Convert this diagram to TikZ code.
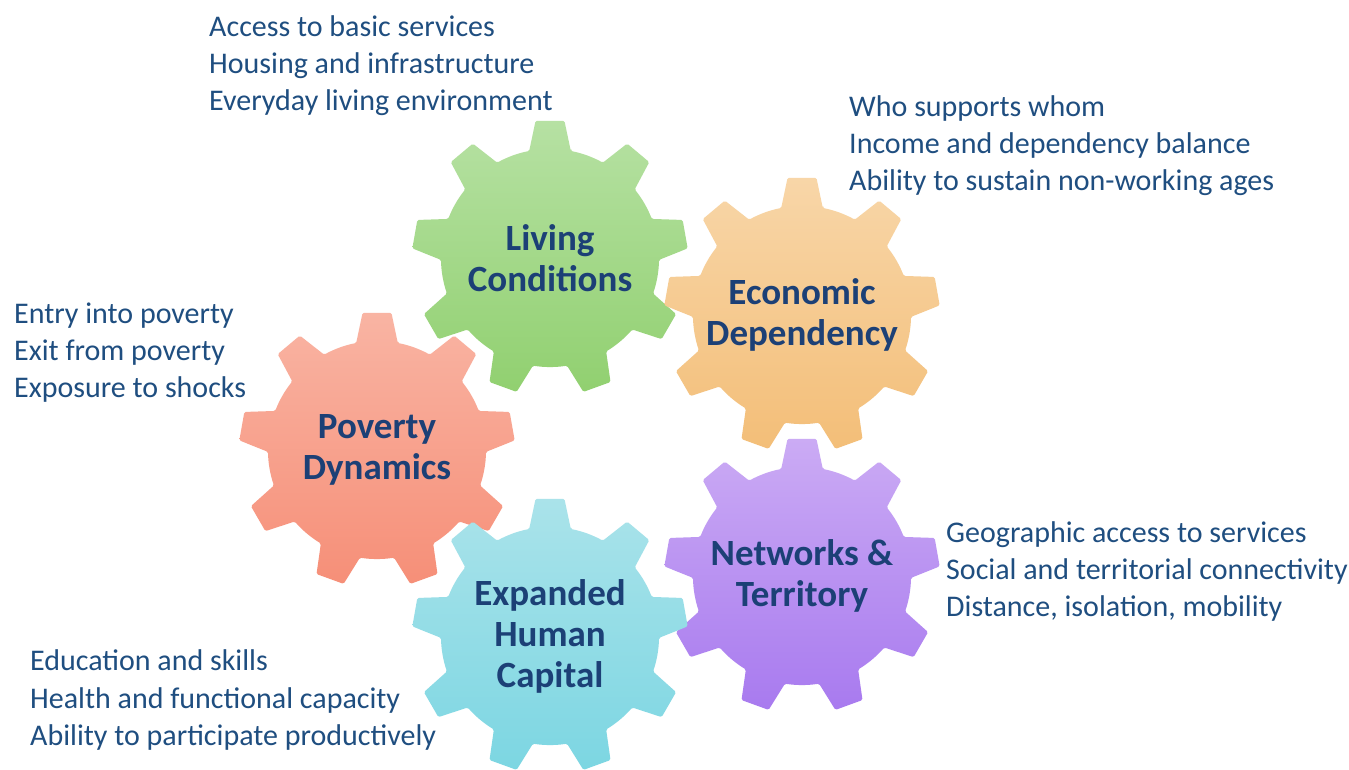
\documentclass[tikz,border=0pt]{standalone}
\usepackage{fontspec}
\setmainfont{Carlito}

\definecolor{txtblue}{RGB}{31,78,128}
\definecolor{lblblue}{RGB}{28,64,118}
\definecolor{greenT}{RGB}{182,225,163}
\definecolor{greenB}{RGB}{145,208,112}
\definecolor{orangeT}{RGB}{248,214,168}
\definecolor{orangeB}{RGB}{243,190,120}
\definecolor{redT}{RGB}{249,180,163}
\definecolor{redB}{RGB}{246,143,120}
\definecolor{purpleT}{RGB}{203,171,244}
\definecolor{purpleB}{RGB}{168,122,239}
\definecolor{cyanT}{RGB}{170,227,234}
\definecolor{cyanB}{RGB}{124,214,226}

% gear with 9 teeth: #1 centre, #2 top colour, #3 bottom colour
\newcommand{\gearshape}[3]{%
  \shade[top color=#2,bottom color=#3,shift={(#1)},rounded corners=1.5pt]
    (79:109) \foreach \k in {0,...,8} {
      -- ({84+40*\k}:138) -- ({96+40*\k}:138) -- ({101+40*\k}:109)
      arc[start angle={101+40*\k},end angle={119+40*\k},radius=109pt]
    } -- cycle;}

\begin{document}
\begin{tikzpicture}[x=1pt,y=1pt,
  gearlbl/.style={font=\bfseries\fontsize{37}{41}\selectfont,text=lblblue,align=center},
  sidetxt/.style={font=\fontsize{30}{37}\selectfont,text=txtblue,align=left,anchor=west,inner sep=0pt}]
\useasboundingbox (0,0) rectangle (1349,769);
\clip (0,0) rectangle (1349,769);
\fill[white] (0,0) rectangle (1349,769);

\coordinate (lc) at (550,511);
\coordinate (ed) at (802,454);
\coordinate (pd) at (377,319);
\coordinate (nt) at (802,193);
\coordinate (hc) at (550,133);

\gearshape{lc}{greenT}{greenB}
\gearshape{ed}{orangeT}{orangeB}
\gearshape{pd}{redT}{redB}
\gearshape{nt}{purpleT}{purpleB}
\gearshape{hc}{cyanT}{cyanB}

\node[gearlbl] (lc-lbl) at (lc) {Living\\Conditions};
\node[gearlbl] (ed-lbl) at (ed) {Economic\\Dependency};
\node[gearlbl] (pd-lbl) at (pd) {Poverty\\Dynamics};
\node[gearlbl] (nt-lbl) at (nt) {Networks \&\\Territory};
\node[gearlbl] (hc-lbl) at (hc) {Expanded\\Human\\Capital};

\node[sidetxt] (lc-txt) at (209,703) {Access to basic services\\Housing and infrastructure\\Everyday living environment};
\node[sidetxt] (ed-txt) at (849,623) {Who supports whom\\Income and dependency balance\\Ability to sustain non-working ages};
\node[sidetxt] (pd-txt) at (14,416) {Entry into poverty\\Exit from poverty\\Exposure to shocks};
\node[sidetxt] (nt-txt) at (946,197) {Geographic access to services\\Social and territorial connectivity\\Distance, isolation, mobility};
\node[sidetxt] (hc-txt) at (30,69) {Education and skills\\Health and functional capacity\\Ability to participate productively};
\end{tikzpicture}
\end{document}
